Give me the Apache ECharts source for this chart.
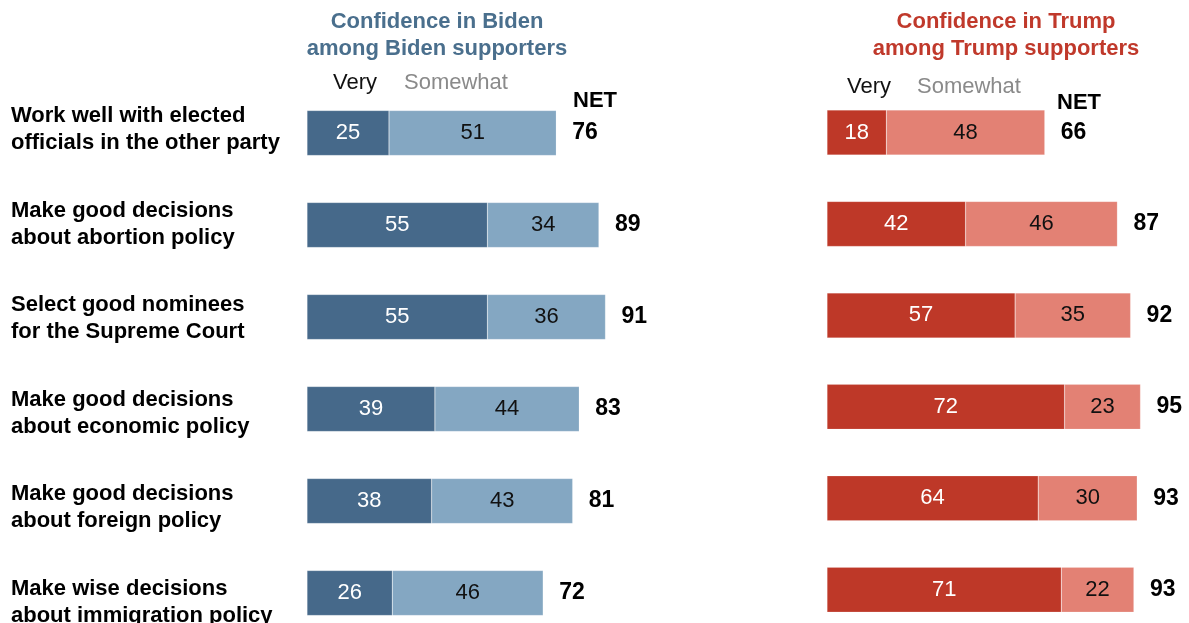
<!DOCTYPE html>
<html>
<head>
<meta charset="utf-8">
<script src="https://cdn.jsdelivr.net/npm/echarts@6/dist/echarts.min.js"></script>
<style>
  html, body { margin: 0; padding: 0; background: #fff; overflow: hidden; }
  /* the last row runs slightly past the bottom of the window */
  #chart { width: 1189px; height: 660px; }
</style>
</head>
<body>
<div id="chart"></div>
<script>
// Survey items (rows, top to bottom)
const categories = [
  'Work well with elected\nofficials in the other party',
  'Make good decisions\nabout abortion policy',
  'Select good nominees\nfor the Supreme Court',
  'Make good decisions\nabout economic policy',
  'Make good decisions\nabout foreign policy',
  'Make wise decisions\nabout immigration policy'
];

// Confidence in Biden among Biden supporters (%)
const bidenVery     = [25, 55, 55, 39, 38, 26];
const bidenSomewhat = [51, 34, 36, 44, 43, 46];
const bidenNet      = [76, 89, 91, 83, 81, 72];

// Confidence in Trump among Trump supporters (%)
const trumpVery     = [18, 42, 57, 72, 64, 71];
const trumpSomewhat = [48, 46, 35, 23, 30, 22];
const trumpNet      = [66, 87, 92, 95, 93, 93];

const FONT = '"Liberation Sans", Arial, sans-serif';

const C = {
  bDark: '#46698a', bLight: '#84a7c2', bHead: '#4a6f8d',
  tDark: '#be3828', tLight: '#e38174', tHead: '#c0392b'
};

function barSeries(idx, data, color, textColor, stack) {
  return {
    type: 'bar',
    xAxisIndex: idx, yAxisIndex: idx,
    stack: stack,
    data: data,
    barWidth: 45,
    itemStyle: { color: color, borderColor: 'rgba(255,255,255,0.35)', borderWidth: 0.5 },
    label: {
      show: true, position: 'inside', color: textColor,
      fontFamily: FONT, fontSize: 22
    },
    silent: true,
    animation: false
  };
}

// NET labels sit just past the end of each stacked bar
function netSeries(idx, very, some, net) {
  return {
    type: 'scatter',
    xAxisIndex: idx, yAxisIndex: idx,
    symbolSize: 0,
    itemStyle: { opacity: 1 },
    data: very.map((v, i) => ({ value: [v + some[i], i], net: net[i] })),
    label: {
      show: true, position: 'right', distance: 16,
      formatter: p => p.data.net,
      color: '#000', fontFamily: FONT, fontWeight: 'bold', fontSize: 23
    },
    silent: true,
    animation: false
  };
}

const xAxisBase = { type: 'value', min: 0, max: 100, show: false };
const yAxisBase = {
  type: 'category', inverse: true, data: categories,
  axisLine: { show: false }, axisTick: { show: false }, splitLine: { show: false }
};
const noBounds = { containLabel: false, outerBoundsMode: 'none' };

const option = {
  backgroundColor: '#fff',
  animation: false,
  grid: [
    Object.assign({ left: 307, top: 87, width: 328, height: 552 }, noBounds),
    Object.assign({ left: 827, top: 86.8, width: 330, height: 548.6 }, noBounds),
    // row-label column, spaced slightly wider than the bars
    Object.assign({ left: 307, top: 82.4, width: 328, height: 566.9 }, noBounds)
  ],
  xAxis: [
    Object.assign({ gridIndex: 0 }, xAxisBase),
    Object.assign({ gridIndex: 1 }, xAxisBase),
    Object.assign({ gridIndex: 2 }, xAxisBase)
  ],
  yAxis: [
    Object.assign({ gridIndex: 0 }, yAxisBase, { axisLabel: { show: false } }),
    Object.assign({ gridIndex: 1 }, yAxisBase, { axisLabel: { show: false } }),
    Object.assign({ gridIndex: 2 }, yAxisBase, {
      axisLabel: {
        show: true, align: 'left', margin: 296,
        color: '#000', fontFamily: FONT, fontWeight: 'bold', fontSize: 22,
        lineHeight: 27
      }
    })
  ],
  series: [
    barSeries(0, bidenVery, C.bDark, '#fff', 'biden'),
    barSeries(0, bidenSomewhat, C.bLight, '#111', 'biden'),
    netSeries(0, bidenVery, bidenSomewhat, bidenNet),
    barSeries(1, trumpVery, C.tDark, '#fff', 'trump'),
    barSeries(1, trumpSomewhat, C.tLight, '#111', 'trump'),
    netSeries(1, trumpVery, trumpSomewhat, trumpNet)
  ],
  graphic: [
    { type: 'text', x: 437, y: 35, style: {
        text: 'Confidence in Biden\namong Biden supporters',
        align: 'center', verticalAlign: 'middle', fill: C.bHead,
        font: 'bold 22px ' + FONT, lineHeight: 27 } },
    { type: 'text', x: 1006, y: 35, style: {
        text: 'Confidence in Trump\namong Trump supporters',
        align: 'center', verticalAlign: 'middle', fill: C.tHead,
        font: 'bold 22px ' + FONT, lineHeight: 27 } },
    { type: 'text', x: 333, y: 83, style: { text: 'Very', fill: '#111', font: '22px ' + FONT, verticalAlign: 'middle' } },
    { type: 'text', x: 404, y: 83, style: { text: 'Somewhat', fill: '#8a8a8a', font: '22px ' + FONT, verticalAlign: 'middle' } },
    { type: 'text', x: 573, y: 101, style: { text: 'NET', fill: '#000', font: 'bold 22px ' + FONT, verticalAlign: 'middle' } },
    { type: 'text', x: 847, y: 87, style: { text: 'Very', fill: '#111', font: '22px ' + FONT, verticalAlign: 'middle' } },
    { type: 'text', x: 917, y: 87, style: { text: 'Somewhat', fill: '#8a8a8a', font: '22px ' + FONT, verticalAlign: 'middle' } },
    { type: 'text', x: 1057, y: 103, style: { text: 'NET', fill: '#000', font: 'bold 22px ' + FONT, verticalAlign: 'middle' } }
  ]
};

const chart = echarts.init(document.getElementById('chart'), null, { renderer: 'canvas' });
chart.setOption(option);
</script>
</body>
</html>
